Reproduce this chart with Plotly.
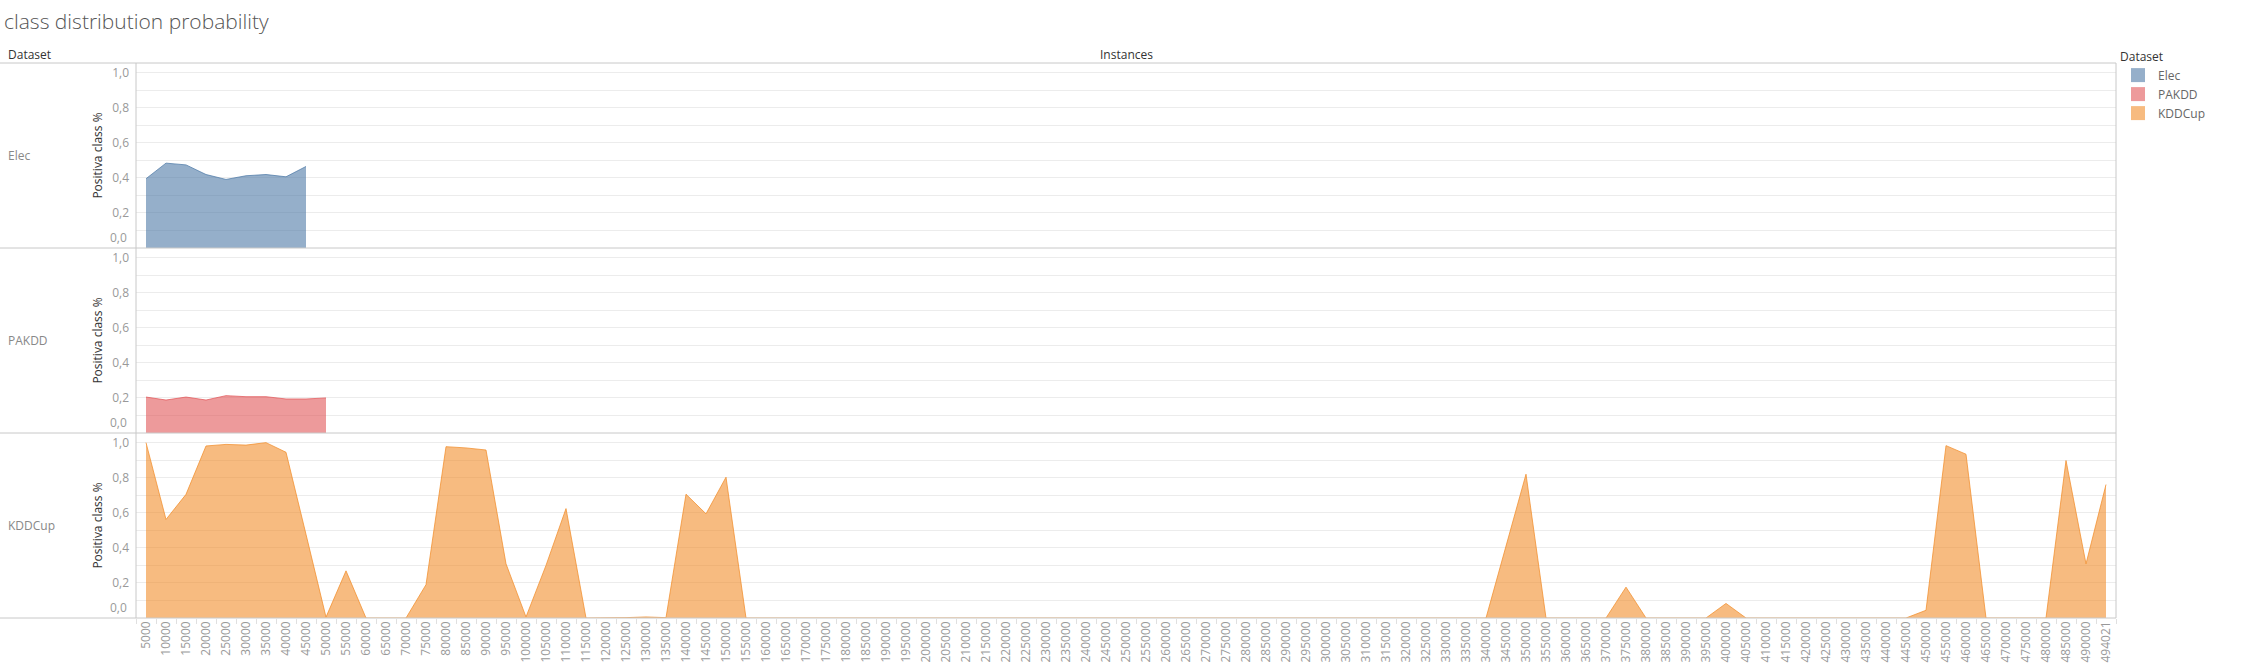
import plotly.graph_objects as go
from plotly.subplots import make_subplots

# ---- data ----
instances = [str(v) for v in range(5000, 490001, 5000)] + ["494021"]
datasets = ["Elec", "PAKDD", "KDDCup"]

elec_values = [0.395, 0.484, 0.474, 0.419, 0.391, 0.412, 0.419, 0.406, 0.465]
pakdd_values = [0.205, 0.188, 0.205, 0.188, 0.213, 0.207, 0.207, 0.194, 0.194, 0.200]
kddcup_values = [
    1.0, 0.562, 0.705, 0.981, 0.990, 0.986, 1.0, 0.945, 0.477, 0.005,
    0.269, 0, 0, 0, 0.19, 0.977, 0.970, 0.958, 0.309, 0.006,
    0.30, 0.624, 0, 0, 0.002, 0.006, 0.002, 0.706, 0.594, 0.803,
    0, 0, 0, 0, 0, 0, 0, 0, 0, 0,
    0, 0, 0, 0, 0, 0, 0, 0, 0, 0,
    0, 0, 0, 0, 0, 0, 0, 0, 0, 0,
    0, 0, 0, 0, 0, 0, 0, 0, 0.41, 0.82,
    0, 0, 0, 0, 0.176, 0, 0, 0, 0, 0.083,
    0, 0, 0, 0, 0, 0, 0, 0, 0, 0.044,
    0.983, 0.934, 0, 0, 0, 0, 0.898, 0.309, 0.761,
]
series_values = [elec_values, pakdd_values, kddcup_values]

y_ticks = [0.2, 0.4, 0.6, 0.8, 1.0]
y_tick_labels = ["0,2", "0,4", "0,6", "0,8", "1,0"]
zero_label = "0,0"

# ---- styles ----
base_rgb = [(78, 121, 167), (225, 87, 89), (242, 142, 43)]
FONT = "Open Sans"
W, H = 2268, 667
L, R, T, B = 136, 152, 63, 49
PW = W - L - R
PH = H - T - B
border = "#c8c8c8"
grid = "#ececec"

def px_x(p):
    return (p - L) / PW

def px_y(p):
    return 1 - (p - T) / PH

fig = make_subplots(rows=3, cols=1, shared_xaxes=True, vertical_spacing=0)

for i, (name, vals) in enumerate(zip(datasets, series_values)):
    r, g, b = base_rgb[i]
    fig.add_trace(
        go.Scatter(
            x=instances[: len(vals)],
            y=vals,
            mode="lines",
            fill="tozeroy",
            fillcolor=f"rgba({r},{g},{b},0.6)",
            line=dict(color=f"rgba({r},{g},{b},0.75)", width=1),
            name=name,
            showlegend=False,
            hoverinfo="x+y+name",
        ),
        row=i + 1,
        col=1,
    )
    # legend entry
    fig.add_trace(
        go.Scatter(
            x=[None],
            y=[None],
            mode="markers",
            marker=dict(symbol="square", size=14,
                        color=f"rgba({r},{g},{b},0.6)"),
            name=name,
            showlegend=True,
        ),
        row=i + 1,
        col=1,
    )

for i in range(3):
    fig.update_yaxes(
        row=i + 1, col=1,
        range=[0, 1.055],
        tickvals=y_ticks,
        ticktext=y_tick_labels,
        tickfont=dict(family=FONT, size=12, color="#999999"),
        ticklabelstandoff=6,
        showgrid=True,
        gridcolor=grid,
        gridwidth=1,
        minor=dict(dtick=0.1, tick0=0, showgrid=True, gridcolor=grid, gridwidth=1),
        zeroline=False,
        showline=False,
        automargin=False,
        title=dict(text="Positiva class %", font=dict(family=FONT, size=12, color="#333333"), standoff=6),
        fixedrange=True,
    )
    fig.update_xaxes(
        row=i + 1, col=1,
        type="category",
        categoryorder="array",
        categoryarray=instances,
        range=[-0.5, len(instances) - 0.5],
        showgrid=False,
        zeroline=False,
        showline=False,
        automargin=False,
    )

fig.update_xaxes(
    row=3, col=1,
    tickangle=-90,
    tickfont=dict(family=FONT, size=12, color="#999999"),
    ticks="outside",
    ticklen=5,
    tickcolor="#e0e0e0",
    tickson="boundaries",
    tickmode="array",
    tickvals=instances,
    ticktext=instances,
)

shapes = []
xl = px_x(0)
# horizontal lines: header line, panel separators, bottom
for yy in [1, 2 / 3, 1 / 3, 0]:
    shapes.append(dict(type="line", xref="paper", yref="paper", x0=xl, x1=1, y0=yy, y1=yy,
                       line=dict(color=border, width=1)))
# left axis line and right border
for xx in [0, 1]:
    shapes.append(dict(type="line", xref="paper", yref="paper", x0=xx, x1=xx, y0=0, y1=1,
                       line=dict(color=border, width=1)))

annotations = []
# row headers
for i, name in enumerate(datasets):
    yc = 1 - (i + 0.5) / 3
    annotations.append(dict(text=name, xref="paper", yref="paper", x=px_x(6), y=yc,
                            xanchor="left", yanchor="middle", showarrow=False,
                            font=dict(family=FONT, size=12, color="#888888")))
    # shifted 0,0 label
    annotations.append(dict(text=zero_label, xref="paper", yref=f"y{'' if i == 0 else i + 1} domain",
                            x=0, y=0, xanchor="right", yanchor="bottom", xshift=-7, yshift=0,
                            showarrow=False,
                            font=dict(family=FONT, size=12, color="#999999")))
# column headers
annotations.append(dict(text="Dataset", xref="paper", yref="paper", x=px_x(6), y=px_y(55),
                        xanchor="left", yanchor="middle", showarrow=False,
                        font=dict(family=FONT, size=12, color="#333333")))
annotations.append(dict(text="Instances", xref="paper", yref="paper", x=0.5, y=px_y(55),
                        xanchor="center", yanchor="middle", showarrow=False,
                        font=dict(family=FONT, size=12, color="#333333")))

fig.update_layout(
    width=W,
    height=H,
    autosize=False,
    margin=dict(l=L, r=R, t=T, b=B, autoexpand=False),
    paper_bgcolor="white",
    plot_bgcolor="white",
    title=dict(text="class distribution probability", x=4 / W, xanchor="left",
               y=1 - 22 / H, yanchor="middle", automargin=False,
               font=dict(family=FONT, size=21, color="#555555", weight=300)),
    legend=dict(
        title=dict(text="Dataset", font=dict(family=FONT, size=12, color="#333333")),
        x=px_x(2118), xanchor="left",
        y=px_y(45), yanchor="top",
        font=dict(family=FONT, size=12, color="#666666"),
        bgcolor="rgba(0,0,0,0)",
        tracegroupgap=0,
        itemclick=False,
    ),
    shapes=shapes,
    annotations=annotations,
    showlegend=True,
    hovermode="closest",
)

fig.write_html(
    "out.html",
    config={"displayModeBar": False},
    post_script="document.body.style.margin='0';document.body.style.overflow='hidden';",
)
